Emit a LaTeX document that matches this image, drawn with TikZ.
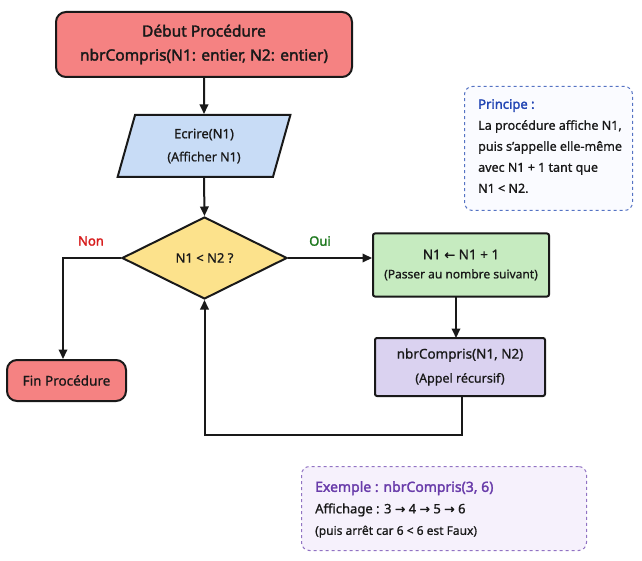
\documentclass[tikz,border=0pt]{standalone}
\usepackage{fontspec}
\setmainfont{Noto Sans}[FakeBold=0.9]
\newfontfamily\boldf{Noto Sans}[FakeBold=2]
\newfontfamily\symf{DejaVu Sans}[FakeBold=0.9]
\usetikzlibrary{shapes.geometric,arrows.meta}
\definecolor{cstart}{RGB}{245,130,130}
\definecolor{cblue}{RGB}{200,220,246}
\definecolor{cyel}{RGB}{252,226,140}
\definecolor{cgreen}{RGB}{198,235,192}
\definecolor{cpurp}{RGB}{218,210,240}
\definecolor{pribd}{RGB}{85,115,195}
\definecolor{pritx}{RGB}{35,70,180}
\definecolor{pribg}{RGB}{250,251,255}
\definecolor{exbd}{RGB}{145,115,195}
\definecolor{extx}{RGB}{105,60,170}
\definecolor{exbg}{RGB}{246,241,252}
\definecolor{nonc}{RGB}{215,30,30}
\definecolor{ouic}{RGB}{30,120,30}
\definecolor{ink}{RGB}{25,25,25}
\tikzset{
  box/.style={draw=ink, line width=2pt, align=center, inner sep=0pt, text=ink},
  term/.style={box, rounded corners=10pt, fill=cstart},
  conn/.style={draw=ink, line width=2pt, -{Triangle[length=9.5pt,width=8.5pt]}},
  note/.style={dashed, line width=1pt, rounded corners=8pt, align=left, inner sep=0pt, anchor=north west},
}
\begin{document}
\begin{tikzpicture}[x=1pt,y=-1pt]
\useasboundingbox (0,0) rectangle (642,561);
% start
\node[term, minimum width=296, minimum height=65, font=\boldf\fontsize{15.5}{24}\selectfont] (start) at (204,44.5)
  {Début Procédure\\nbrCompris(N1: entier, N2: entier)};
% parallelogram
\node[box, trapezium, trapezium left angle=75, trapezium right angle=105, trapezium stretches=true,
  fill=cblue, minimum width=173, minimum height=62, font=\fontsize{13}{23}\selectfont] (ecr) at (204,146)
  {Ecrire(N1)\\\fontsize{12.5}{23}\selectfont (Afficher N1)};
% diamond
\node[box, diamond, fill=cyel, minimum width=165, minimum height=82, aspect=2, font=\fontsize{13}{16}\selectfont] (dec) at (204.5,258)
  {N1 < N2 ?};
% fin
\node[term, minimum width=119, minimum height=41, font=\fontsize{13.5}{16}\selectfont] (fin) at (66.5,380.5)
  {Fin Procédure};
% green
\node[box, fill=cgreen, rounded corners=2pt, minimum width=176, minimum height=63, font=\fontsize{13.5}{19}\selectfont] (inc) at (461,265)
  {N1 {\symf\fontsize{13}{19}\selectfont ←} N1 + 1\\\fontsize{12}{19}\selectfont (Passer au nombre suivant)};
% purple
\node[box, fill=cpurp, rounded corners=2pt, minimum width=170, minimum height=58, font=\fontsize{13.5}{24}\selectfont] (rec) at (460,367)
  {nbrCompris(N1, N2)\\\fontsize{12.5}{24}\selectfont (Appel récursif)};
% connectors
\draw[conn] (start.south) -- (ecr.north);
\draw[conn] (ecr.south) -- (dec.north);
\coordinate (nonc) at (63,258);
\draw[conn] (dec.west) -- (nonc) -- (nonc |- fin.north);
\draw[conn] (dec.east) -- (inc.west |- dec.east);
\node[text=nonc, font=\boldf\fontsize{13}{16}\selectfont] (nonl) at (91,241) {Non};
\node[text=ouic, font=\boldf\fontsize{13}{16}\selectfont] (ouil) at (320,241) {Oui};
\draw[conn] (456,296.5) -- (456,338);
\coordinate (loopa) at (462,435);
\coordinate (loopb) at (204.5,435);
\draw[conn] (462,396) -- (loopa) -- (loopb) -- (dec.south);
% principe
\node[note, draw=pribd, fill=pribg, minimum width=168, minimum height=124] (pri) at (464,86) {};
\node[anchor=north west, align=left, inner sep=0pt, text=ink,
  font=\fontsize{12.5}{21}\selectfont] (prit) at (478,99)
  {{\color{pritx}\boldf\fontsize{13}{21}\selectfont Principe :}\\
   La procédure affiche N1,\\puis s’appelle elle-même\\avec N1 + 1 tant que\\N1 < N2.};
% exemple
\node[note, draw=exbd, fill=exbg, minimum width=285, minimum height=84] (ex) at (301,466) {};
\node[anchor=north west, align=left, inner sep=0pt, text=ink, font=\fontsize{13}{21.5}\selectfont] (ext) at (315,481)
  {{\color{extx}\boldf\fontsize{14}{21.5}\selectfont Exemple : nbrCompris(3, 6)}\\
   Affichage : 3 {\symf\fontsize{12.5}{21}\selectfont →} 4 {\symf\fontsize{12.5}{21}\selectfont →} 5 {\symf\fontsize{12.5}{21}\selectfont →} 6\\
   \fontsize{12}{21.5}\selectfont (puis arrêt car 6 < 6 est Faux)};
\end{tikzpicture}
\end{document}
